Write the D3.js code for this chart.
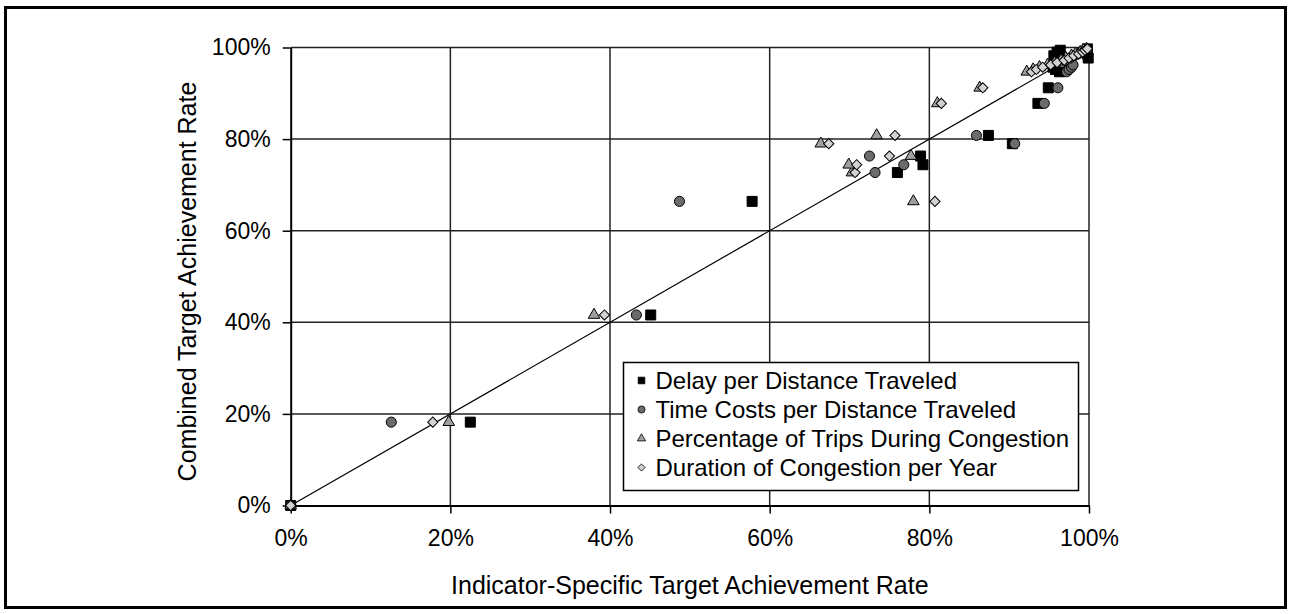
<!DOCTYPE html>
<html>
<head>
<meta charset="utf-8">
<script src="https://cdn.jsdelivr.net/npm/d3@7"></script>
<style>
  html, body { margin: 0; padding: 0; background: #fff; }
  svg { display: block; font-family: "Liberation Sans", Arial, sans-serif; }
</style>
</head>
<body>
<div id="chart"></div>
<script>
// Combined target achievement rate (y) for each observation, in %
const combined  = [0, 18.2, 41.6, 66.4, 72.7, 74.4, 76.3, 79.0, 80.8, 87.8, 91.2, 94.7,
                   95.2, 95.7, 96.2, 96.7, 97.2, 97.7, 98.2, 98.6, 99.0, 99.4, 99.7];
// Indicator-specific rates (x) for the same observations, in %
const delay     = [0, 22.5, 45.1, 57.8, 76.0, 79.2, 78.9, 90.4, 87.4, 93.6, 94.9, 96.3,
                   95.8, 95.5, 96.0, 95.8, 96.5, 99.9, 95.6, 99.8, 96.0, 96.4, 99.8];
const timeCosts = [0, 12.6, 43.3, 48.7, 73.2, 76.8, 72.5, 90.7, 85.9, 94.4, 96.1, 97.2,
                   97.5, 97.8, 98.0, 96.6, 97.0, 97.6, 98.1, 98.6, 99.0, 99.4, 99.7];
const tripsPct  = [0, 19.8, 38.0, 78.0, 70.3, 69.9, 77.7, 66.4, 73.4, 81.0, 86.3, 92.2,
                   93.0, 93.8, 94.8, 95.7, 96.5, 97.1, 97.8, 98.3, 98.9, 99.3, 99.7];
const duration  = [0, 17.8, 39.3, 80.7, 70.7, 70.9, 75.0, 67.4, 75.7, 81.5, 86.7, 92.8,
                   93.4, 94.2, 95.2, 96.0, 96.9, 97.5, 98.1, 98.7, 99.2, 99.5, 99.8];

const seriesNames = [
  "Delay per Distance Traveled",
  "Time Costs per Distance Traveled",
  "Percentage of Trips During Congestion",
  "Duration of Congestion per Year"
];
const seriesX = [delay, timeCosts, tripsPct, duration];
const tickValues = [0, 0.2, 0.4, 0.6, 0.8, 1.0];

const W = 1291, H = 614;
const plot = { left: 290.7, right: 1089, top: 47.5, bottom: 505.5 };

const styles = [
  { shape: d3.symbolSquare,   fill: "#000000", size: 100, legendSize: 44, rot: 0 },
  { shape: d3.symbolCircle,   fill: "#6b6b6b", size: 80,  legendSize: 40, rot: 0 },
  { shape: d3.symbolTriangle, fill: "#a0a0a0", size: 58,  legendSize: 30, rot: 0 },
  { shape: d3.symbolSquare,   fill: "#d2d2d2", size: 52,  legendSize: 26, rot: 45 }
];

const svg = d3.select("#chart").append("svg")
  .attr("width", W)
  .attr("height", H);

// Outer frame
svg.append("rect")
  .attr("x", 5.5).attr("y", 7.5)
  .attr("width", W - 11).attr("height", H - 14)
  .attr("fill", "#fff")
  .attr("stroke", "#000")
  .attr("stroke-width", 3);

const x = d3.scaleLinear().domain([0, 1]).range([plot.left, plot.right]);
const y = d3.scaleLinear().domain([0, 1]).range([plot.bottom, plot.top]);

// Gridlines
const grid = svg.append("g");
grid.selectAll(".vg")
  .data(tickValues.slice(1))
  .enter().append("line")
  .attr("x1", d => x(d)).attr("x2", d => x(d))
  .attr("y1", plot.top).attr("y2", plot.bottom)
  .attr("stroke", "#222").attr("stroke-width", 1.5);
grid.selectAll(".hg")
  .data(tickValues.slice(1))
  .enter().append("line")
  .attr("x1", plot.left).attr("x2", plot.right)
  .attr("y1", d => y(d)).attr("y2", d => y(d))
  .attr("stroke", "#222").attr("stroke-width", 1.5);

// Axes
const fmt = d3.format(".0%");
const xAxis = svg.append("g")
  .attr("transform", `translate(0,${plot.bottom})`)
  .call(d3.axisBottom(x).tickValues(tickValues).tickFormat(fmt).tickSize(8).tickSizeOuter(0).tickPadding(16));
const yAxis = svg.append("g")
  .attr("transform", `translate(${plot.left},0)`)
  .call(d3.axisLeft(y).tickValues(tickValues).tickFormat(fmt).tickSize(8).tickSizeOuter(0).tickPadding(12));

[xAxis, yAxis].forEach(ax => {
  ax.select(".domain").attr("stroke", "#000").attr("stroke-width", 2);
  ax.selectAll(".tick line").attr("stroke", "#000").attr("stroke-width", 1.5);
  ax.selectAll(".tick text")
    .attr("font-family", "Liberation Sans, Arial, sans-serif")
    .attr("font-size", "23px")
    .attr("fill", "#000");
});

// Diagonal reference line
svg.append("line")
  .attr("x1", x(0)).attr("y1", y(0))
  .attr("x2", x(1)).attr("y2", y(1))
  .attr("stroke", "#000").attr("stroke-width", 1.2);

// Points, series drawn in order so later ones sit on top
seriesX.forEach((xs, s) => {
  const st = styles[s];
  const sym = d3.symbol().type(st.shape).size(st.size);
  svg.append("g").selectAll("path")
    .data(xs.map((v, i) => ({ x: v / 100, y: combined[i] / 100 })))
    .enter().append("path")
    .attr("d", sym)
    .attr("transform", d => `translate(${x(d.x)},${y(d.y)}) rotate(${st.rot})`)
    .attr("fill", st.fill)
    .attr("stroke", "#000")
    .attr("stroke-width", 1);
});

// Legend
const legend = svg.append("g").attr("transform", "translate(623.5,362.5)");
legend.append("rect")
  .attr("width", 455).attr("height", 128)
  .attr("fill", "#fff")
  .attr("stroke", "#000")
  .attr("stroke-width", 1.5);

seriesNames.forEach((name, i) => {
  const st = styles[i];
  const cy = 18 + i * 29;
  legend.append("path")
    .attr("d", d3.symbol().type(st.shape).size(st.legendSize))
    .attr("transform", `translate(18,${cy}) rotate(${st.rot})`)
    .attr("fill", st.fill)
    .attr("stroke", "#000")
    .attr("stroke-width", 0.8);
  legend.append("text")
    .attr("x", 32)
    .attr("y", cy)
    .attr("dy", "0.36em")
    .attr("font-size", "24px")
    .attr("fill", "#000")
    .text(name);
});

// Axis titles
svg.append("text")
  .attr("x", (plot.left + plot.right) / 2)
  .attr("y", 594)
  .attr("text-anchor", "middle")
  .attr("font-size", "25px")
  .attr("fill", "#000")
  .text("Indicator-Specific Target Achievement Rate");

svg.append("text")
  .attr("transform", `translate(196,${(plot.top + plot.bottom) / 2 + 5}) rotate(-90)`)
  .attr("text-anchor", "middle")
  .attr("font-size", "25px")
  .attr("fill", "#000")
  .text("Combined Target Achievement Rate");
</script>
</body>
</html>
